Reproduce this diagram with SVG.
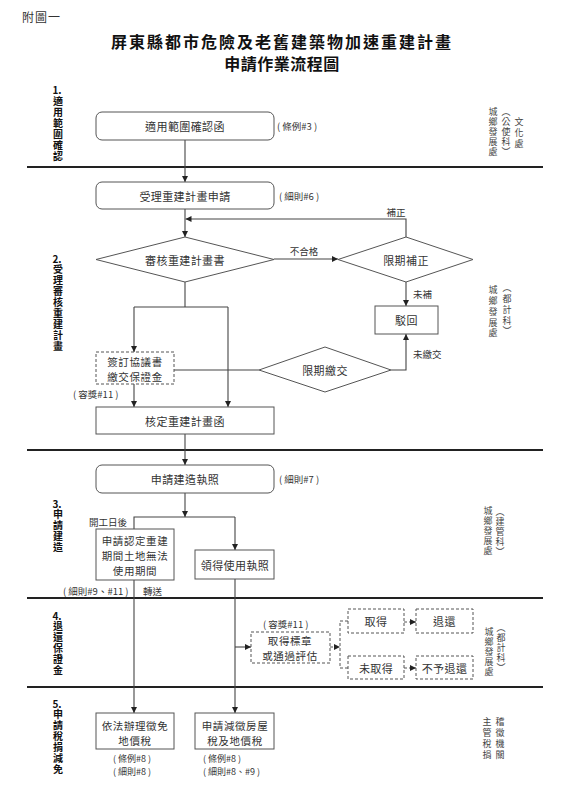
<svg xmlns="http://www.w3.org/2000/svg" width="587" height="787" viewBox="0 0 587 787">
<style>
text{font-family:"Noto Sans CJK TC","Noto Sans CJK SC","Liberation Sans",sans-serif;}
.bx{fill:#fff;stroke:#555;stroke-width:1;}
.dbx{fill:#fff;stroke:#555;stroke-width:1;stroke-dasharray:3,2;}
.t{font-size:11px;fill:#333;text-anchor:middle;dominant-baseline:central;letter-spacing:0.4px;}
.t2{font-size:10.5px;fill:#333;text-anchor:middle;dominant-baseline:central;letter-spacing:0.6px;}
.s{font-size:9.5px;fill:#333;dominant-baseline:central;}
.s2{font-size:9px;fill:#333;dominant-baseline:central;}
.sc{font-size:9.5px;fill:#333;dominant-baseline:central;text-anchor:middle;}
.num{font-size:10px;font-weight:bold;fill:#111;text-anchor:middle;dominant-baseline:central;}
.sec{font-size:10px;font-weight:bold;fill:#111;writing-mode:vertical-rl;letter-spacing:1px;}
.rv{font-size:9px;fill:#444;writing-mode:vertical-rl;letter-spacing:1px;}
.ln{fill:none;stroke:#444;stroke-width:1.1;}
.dln{fill:none;stroke:#555;stroke-width:1;stroke-dasharray:3,2;}
.sep{stroke:#222;stroke-width:1.8;}
</style>
<defs>
<marker id="ah" viewBox="0 0 10 10" refX="10" refY="5" markerWidth="6" markerHeight="6" markerUnits="userSpaceOnUse" orient="auto">
<path d="M0,0 L10,5 L0,10 z" fill="#222"/>
</marker>
</defs>
<rect width="587" height="787" fill="#fff"/>

<g id="title">
<text x="22" y="16" style="font-size:12px;fill:#333;dominant-baseline:central;letter-spacing:1px">附圖一</text>
<text x="282" y="41" style="font-size:16px;font-weight:bold;fill:#111;text-anchor:middle;dominant-baseline:central;letter-spacing:2px">屏東縣都市危險及老舊建築物加速重建計畫</text>
<text x="282" y="63" style="font-size:16px;font-weight:bold;fill:#111;text-anchor:middle;dominant-baseline:central;letter-spacing:0.5px">申請作業流程圖</text>
</g>

<g id="separators">
<line class="sep" x1="27" y1="167" x2="543" y2="167"/>
<line class="sep" x1="27" y1="450" x2="543" y2="450"/>
<line class="sep" x1="27" y1="598" x2="543" y2="598"/>
<line class="sep" x1="27" y1="687" x2="543" y2="687"/>
</g>

<g id="section-labels">
<text class="num" x="57" y="89">1.</text>
<text class="sec" x="58" y="96">適用範圍確認</text>
<text class="num" x="57" y="258">2.</text>
<text class="sec" x="58" y="264">受理審核重建計畫</text>
<text class="num" x="57" y="503">3.</text>
<text class="sec" x="58" y="509">申請建造</text>
<text class="num" x="57" y="615">4.</text>
<text class="sec" x="58" y="621">退還保證金</text>
<text class="num" x="57" y="703">5.</text>
<text class="sec" x="58" y="709">申請稅捐減免</text>
</g>

<g id="agencies">
<text class="rv" x="493" y="107.5">城鄉發展處</text>
<text class="rv" x="506" y="107.5">（公使科）</text>
<text class="rv" x="519" y="117.5" style="letter-spacing:2px">文化處</text>

<text class="rv" x="493" y="285.5" style="letter-spacing:1.75px">城鄉發展處</text>
<text class="rv" x="507" y="283.5" style="letter-spacing:1.75px">（都計科）</text>

<text class="rv" x="488" y="506.5">城鄉發展處</text>
<text class="rv" x="500" y="507.5">（建管科）</text>

<text class="rv" x="489" y="627.5">城鄉發展處</text>
<text class="rv" x="501" y="623.5">（都計科）</text>

<text class="rv" x="487" y="717.5" style="letter-spacing:2px">主管稅捐</text>
<text class="rv" x="500" y="717.5" style="letter-spacing:2px">稽徵機關</text>
</g>

<g id="connectors">
<path class="ln" d="M185,140 V182" marker-end="url(#ah)"/>
<path class="ln" d="M185,209 V237" marker-end="url(#ah)"/>
<path class="ln" d="M406,237 V219 H185.5" marker-end="url(#ah)"/>
<path class="ln" d="M274,259 H338" marker-end="url(#ah)"/>
<path class="ln" d="M406,282 V306" marker-end="url(#ah)"/>
<path class="ln" d="M185,282 V307"/>
<path class="ln" d="M134,307 H228"/>
<path class="ln" d="M134,307 V352" marker-end="url(#ah)"/>
<path class="ln" d="M228,307 V407" marker-end="url(#ah)"/>
<path class="ln" d="M174,370 H259"/>
<path class="ln" d="M391,370 H406 V334" marker-end="url(#ah)"/>
<path class="ln" d="M134,384 V407" marker-end="url(#ah)"/>
<path class="ln" d="M185,434 V465" marker-end="url(#ah)"/>
<path class="ln" d="M185,493 V517" marker-end="url(#ah)"/>
<path class="ln" d="M134,529 V517 H235"/>
<path class="ln" d="M235,517 V550" marker-end="url(#ah)"/>
<path class="ln" d="M134,580 V713" marker-end="url(#ah)"/>
<path class="ln" d="M235,579 V713" marker-end="url(#ah)"/>
<path class="ln" d="M235,647 H251" marker-end="url(#ah)"/>
<path class="dln" d="M330,647 H340" marker-end="url(#ah)"/>
<path class="dln" d="M348,621 H340 V668 H348"/>
<path class="dln" d="M404,622 H416" marker-end="url(#ah)"/>
<path class="dln" d="M404,668 H416" marker-end="url(#ah)"/>

<text class="sc" x="396" y="212">補正</text>
<text class="sc" x="304" y="251">不合格</text>
<text class="s" x="413" y="294">未補</text>
<text class="s" x="413" y="354">未繳交</text>
<text class="s" x="89" y="522">開工日後</text>
<text class="s" x="143" y="591">轉送</text>
</g>

<g id="n1">
<rect class="bx" x="96" y="112" width="178" height="28" rx="6"/>
<text class="t" x="185" y="126">適用範圍確認函</text>
<text class="s" x="277" y="126">( 條例#3 )</text>
</g>
<g id="n2">
<rect class="bx" x="96" y="182" width="178" height="27" rx="6"/>
<text class="t" x="185" y="196">受理重建計畫申請</text>
<text class="s" x="279" y="196">( 細則#6 )</text>
</g>
<g id="n3">
<polygon class="bx" points="185,237 274,259.5 185,282 96,259.5"/>
<text class="t" x="185" y="259.5">審核重建計畫書</text>
</g>
<g id="n4">
<polygon class="bx" points="406,237 473,259.5 406,282 338,259.5"/>
<text class="t" x="406" y="259.5">限期補正</text>
</g>
<g id="n5">
<rect class="bx" x="375" y="306" width="63" height="28"/>
<text class="t" x="406.5" y="320">駁回</text>
</g>
<g id="n6">
<rect class="dbx" x="96" y="352" width="78" height="32"/>
<text class="t2" x="135" y="361">簽訂協議書</text>
<text class="t2" x="135" y="376">繳交保證金</text>
<text class="s" x="73" y="394">( 容獎#11 )</text>
</g>
<g id="n7">
<polygon class="bx" points="325,347 391,370 325,392 259,370"/>
<text class="t" x="325" y="370">限期繳交</text>
</g>
<g id="n8">
<rect class="bx" x="96" y="407" width="178" height="27"/>
<text class="t" x="185" y="421">核定重建計畫函</text>
</g>
<g id="n9">
<rect class="bx" x="96" y="465" width="178" height="28" rx="6"/>
<text class="t" x="185" y="479">申請建造執照</text>
<text class="s" x="279" y="479">( 細則#7 )</text>
</g>
<g id="n10">
<rect class="bx" x="96" y="529" width="78" height="51"/>
<text class="t2" x="135" y="540">申請認定重建</text>
<text class="t2" x="135" y="555">期間土地無法</text>
<text class="t2" x="135" y="570">使用期間</text>
<text class="s" x="63" y="591">( 細則#9、#11 )</text>
</g>
<g id="n11">
<rect class="bx" x="195" y="550" width="79" height="29"/>
<text class="t" x="235" y="565">領得使用執照</text>
</g>
<g id="n12">
<rect class="dbx" x="251" y="632" width="79" height="31"/>
<text class="t2" x="290" y="640">取得標章</text>
<text class="t2" x="290" y="655">或通過評估</text>
<text class="s" x="263" y="624">( 容獎#11 )</text>
</g>
<g id="n13">
<rect class="dbx" x="348" y="609" width="56" height="24"/>
<text class="t" x="376" y="621">取得</text>
</g>
<g id="n14">
<rect class="dbx" x="416" y="609" width="57" height="24"/>
<text class="t" x="444.5" y="621">退還</text>
</g>
<g id="n15">
<rect class="dbx" x="348" y="656" width="56" height="23"/>
<text class="t" x="376" y="668">未取得</text>
</g>
<g id="n16">
<rect class="dbx" x="416" y="656" width="57" height="23"/>
<text class="t" x="444.5" y="668">不予退還</text>
</g>
<g id="n17">
<rect class="bx" x="96" y="713" width="78" height="36"/>
<text class="t2" x="135" y="725">依法辦理徵免</text>
<text class="t2" x="135" y="740">地價稅</text>
<text class="s2" x="113" y="758">( 條例#8 )</text>
<text class="s2" x="113" y="771">( 細則#8 )</text>
</g>
<g id="n18">
<rect class="bx" x="195" y="713" width="79" height="36"/>
<text class="t2" x="235" y="725">申請減徵房屋</text>
<text class="t2" x="235" y="740">稅及地價稅</text>
<text class="s2" x="203" y="758">( 條例#8 )</text>
<text class="s2" x="203" y="771">( 細則#8、#9 )</text>
</g>
</svg>
